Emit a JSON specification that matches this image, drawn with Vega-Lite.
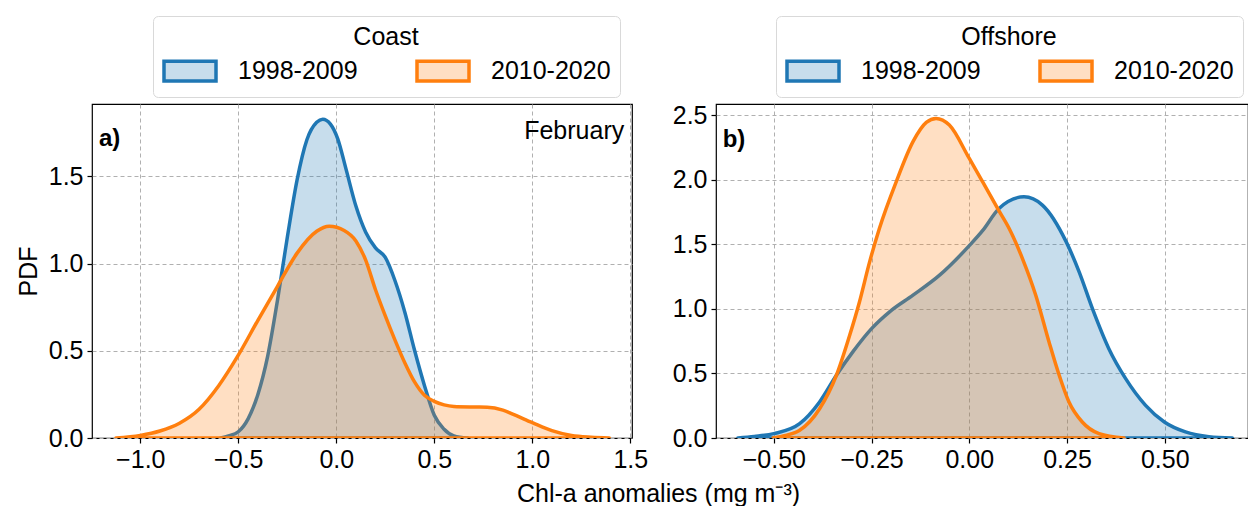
{
  "$schema": "https://vega.github.io/schema/vega-lite/v6.json",
  "padding": {"left": 15, "top": 14, "right": 0, "bottom": 0},
  "background": "white",
  "config": {
    "font": "Liberation Sans",
    "view": {"stroke": "black", "strokeWidth": 1.2},
    "axis": {
      "domain": false, "tickColor": "black", "tickSize": 5, "tickWidth": 1.2,
      "labelFont": "Liberation Sans", "labelFontSize": 25, "labelColor": "black", "labelPadding": 4,
      "gridColor": "#b0b0b0", "gridDash": [4, 3], "gridWidth": 1,
      "titleFont": "Liberation Sans", "titleFontSize": 25, "titleFontWeight": "normal", "titleColor": "black"
    },
    "legend": {
      "direction": "horizontal", "columns": 2,
      "titleAnchor": "middle", "titleFont": "Liberation Sans", "titleFontSize": 25, "titleFontWeight": "normal", "titleColor": "black", "titlePadding": 6,
      "labelFont": "Liberation Sans", "labelFontSize": 25, "labelColor": "black", "labelOffset": 46,
      "symbolType": "M-1,-0.76H3V0.76H-1Z", "symbolSize": 676, "symbolStrokeWidth": 3.5,
      "columnPadding": 52, "padding": 9, "strokeColor": "#d9d9d9", "cornerRadius": 5, "fillColor": "white"
    }
  },
  "datasets": {
    "coast": [
      {"x": -0.59, "pdf": 0, "period": "1998-2009"},
      {"x": -0.55, "pdf": 0.012, "period": "1998-2009"},
      {"x": -0.5, "pdf": 0.036, "period": "1998-2009"},
      {"x": -0.45, "pdf": 0.11, "period": "1998-2009"},
      {"x": -0.4, "pdf": 0.25, "period": "1998-2009"},
      {"x": -0.35, "pdf": 0.47, "period": "1998-2009"},
      {"x": -0.3, "pdf": 0.79, "period": "1998-2009"},
      {"x": -0.25, "pdf": 1.15, "period": "1998-2009"},
      {"x": -0.2, "pdf": 1.48, "period": "1998-2009"},
      {"x": -0.15, "pdf": 1.71, "period": "1998-2009"},
      {"x": -0.1, "pdf": 1.81, "period": "1998-2009"},
      {"x": -0.069, "pdf": 1.828, "period": "1998-2009"},
      {"x": -0.03, "pdf": 1.8, "period": "1998-2009"},
      {"x": 0.007, "pdf": 1.717, "period": "1998-2009"},
      {"x": 0.05, "pdf": 1.54, "period": "1998-2009"},
      {"x": 0.1, "pdf": 1.33, "period": "1998-2009"},
      {"x": 0.15, "pdf": 1.18, "period": "1998-2009"},
      {"x": 0.2, "pdf": 1.09, "period": "1998-2009"},
      {"x": 0.25, "pdf": 1.035, "period": "1998-2009"},
      {"x": 0.3, "pdf": 0.9, "period": "1998-2009"},
      {"x": 0.35, "pdf": 0.72, "period": "1998-2009"},
      {"x": 0.4, "pdf": 0.5, "period": "1998-2009"},
      {"x": 0.45, "pdf": 0.3, "period": "1998-2009"},
      {"x": 0.5, "pdf": 0.13, "period": "1998-2009"},
      {"x": 0.55, "pdf": 0.05, "period": "1998-2009"},
      {"x": 0.6, "pdf": 0.012, "period": "1998-2009"},
      {"x": 0.67, "pdf": 0, "period": "1998-2009"},
      {"x": -1.124, "pdf": 0, "period": "2010-2020"},
      {"x": -1.0, "pdf": 0.015, "period": "2010-2020"},
      {"x": -0.9, "pdf": 0.04, "period": "2010-2020"},
      {"x": -0.8, "pdf": 0.085, "period": "2010-2020"},
      {"x": -0.7, "pdf": 0.165, "period": "2010-2020"},
      {"x": -0.6, "pdf": 0.3, "period": "2010-2020"},
      {"x": -0.5, "pdf": 0.475, "period": "2010-2020"},
      {"x": -0.4, "pdf": 0.675, "period": "2010-2020"},
      {"x": -0.3, "pdf": 0.87, "period": "2010-2020"},
      {"x": -0.2, "pdf": 1.06, "period": "2010-2020"},
      {"x": -0.1, "pdf": 1.185, "period": "2010-2020"},
      {"x": -0.036, "pdf": 1.214, "period": "2010-2020"},
      {"x": 0.04, "pdf": 1.19, "period": "2010-2020"},
      {"x": 0.1, "pdf": 1.13, "period": "2010-2020"},
      {"x": 0.15, "pdf": 1.02, "period": "2010-2020"},
      {"x": 0.2, "pdf": 0.85, "period": "2010-2020"},
      {"x": 0.25, "pdf": 0.7, "period": "2010-2020"},
      {"x": 0.3, "pdf": 0.56, "period": "2010-2020"},
      {"x": 0.35, "pdf": 0.43, "period": "2010-2020"},
      {"x": 0.4, "pdf": 0.32, "period": "2010-2020"},
      {"x": 0.45, "pdf": 0.245, "period": "2010-2020"},
      {"x": 0.5, "pdf": 0.21, "period": "2010-2020"},
      {"x": 0.55, "pdf": 0.19, "period": "2010-2020"},
      {"x": 0.6, "pdf": 0.181, "period": "2010-2020"},
      {"x": 0.7, "pdf": 0.178, "period": "2010-2020"},
      {"x": 0.77, "pdf": 0.177, "period": "2010-2020"},
      {"x": 0.85, "pdf": 0.16, "period": "2010-2020"},
      {"x": 0.9, "pdf": 0.137, "period": "2010-2020"},
      {"x": 1.0, "pdf": 0.088, "period": "2010-2020"},
      {"x": 1.1, "pdf": 0.042, "period": "2010-2020"},
      {"x": 1.2, "pdf": 0.014, "period": "2010-2020"},
      {"x": 1.3, "pdf": 0.004, "period": "2010-2020"},
      {"x": 1.393, "pdf": 0, "period": "2010-2020"}
    ],
    "offshore": [
      {"x": -0.592, "pdf": 0, "period": "1998-2009"},
      {"x": -0.55, "pdf": 0.012, "period": "1998-2009"},
      {"x": -0.5, "pdf": 0.034, "period": "1998-2009"},
      {"x": -0.434, "pdf": 0.111, "period": "1998-2009"},
      {"x": -0.383, "pdf": 0.279, "period": "1998-2009"},
      {"x": -0.34, "pdf": 0.486, "period": "1998-2009"},
      {"x": -0.298, "pdf": 0.667, "period": "1998-2009"},
      {"x": -0.25, "pdf": 0.847, "period": "1998-2009"},
      {"x": -0.204, "pdf": 0.977, "period": "1998-2009"},
      {"x": -0.144, "pdf": 1.106, "period": "1998-2009"},
      {"x": -0.076, "pdf": 1.261, "period": "1998-2009"},
      {"x": 0.0, "pdf": 1.49, "period": "1998-2009"},
      {"x": 0.035, "pdf": 1.61, "period": "1998-2009"},
      {"x": 0.076, "pdf": 1.778, "period": "1998-2009"},
      {"x": 0.14, "pdf": 1.868, "period": "1998-2009"},
      {"x": 0.187, "pdf": 1.804, "period": "1998-2009"},
      {"x": 0.248, "pdf": 1.519, "period": "1998-2009"},
      {"x": 0.281, "pdf": 1.287, "period": "1998-2009"},
      {"x": 0.315, "pdf": 1.002, "period": "1998-2009"},
      {"x": 0.357, "pdf": 0.692, "period": "1998-2009"},
      {"x": 0.4, "pdf": 0.46, "period": "1998-2009"},
      {"x": 0.451, "pdf": 0.253, "period": "1998-2009"},
      {"x": 0.499, "pdf": 0.124, "period": "1998-2009"},
      {"x": 0.553, "pdf": 0.047, "period": "1998-2009"},
      {"x": 0.613, "pdf": 0.01, "period": "1998-2009"},
      {"x": 0.673, "pdf": 0, "period": "1998-2009"},
      {"x": -0.502, "pdf": 0, "period": "2010-2020"},
      {"x": -0.47, "pdf": 0.02, "period": "2010-2020"},
      {"x": -0.434, "pdf": 0.06, "period": "2010-2020"},
      {"x": -0.383, "pdf": 0.227, "period": "2010-2020"},
      {"x": -0.34, "pdf": 0.486, "period": "2010-2020"},
      {"x": -0.306, "pdf": 0.796, "period": "2010-2020"},
      {"x": -0.281, "pdf": 1.054, "period": "2010-2020"},
      {"x": -0.255, "pdf": 1.364, "period": "2010-2020"},
      {"x": -0.23, "pdf": 1.623, "period": "2010-2020"},
      {"x": -0.187, "pdf": 1.984, "period": "2010-2020"},
      {"x": -0.144, "pdf": 2.295, "period": "2010-2020"},
      {"x": -0.11, "pdf": 2.444, "period": "2010-2020"},
      {"x": -0.085, "pdf": 2.475, "period": "2010-2020"},
      {"x": -0.051, "pdf": 2.424, "period": "2010-2020"},
      {"x": 0.0, "pdf": 2.165, "period": "2010-2020"},
      {"x": 0.035, "pdf": 1.98, "period": "2010-2020"},
      {"x": 0.076, "pdf": 1.76, "period": "2010-2020"},
      {"x": 0.102, "pdf": 1.623, "period": "2010-2020"},
      {"x": 0.136, "pdf": 1.39, "period": "2010-2020"},
      {"x": 0.17, "pdf": 1.106, "period": "2010-2020"},
      {"x": 0.204, "pdf": 0.744, "period": "2010-2020"},
      {"x": 0.23, "pdf": 0.486, "period": "2010-2020"},
      {"x": 0.255, "pdf": 0.279, "period": "2010-2020"},
      {"x": 0.289, "pdf": 0.124, "period": "2010-2020"},
      {"x": 0.332, "pdf": 0.034, "period": "2010-2020"},
      {"x": 0.396, "pdf": 0, "period": "2010-2020"}
    ],
    "label_a": [{"x": -1.211, "pdf": 1.674, "text": "a)"}],
    "label_feb": [{"x": 1.469, "pdf": 1.712, "text": "February"}],
    "label_b": [{"x": -0.631, "pdf": 2.254, "text": "b)"}]
  },
  "hconcat": [
    {
      "width": 540,
      "height": 334,
      "layer": [
        {
          "data": {"name": "coast"},
          "mark": {"type": "area", "fillOpacity": 0.25, "strokeWidth": 3.5, "interpolate": "monotone", "strokeJoin": "round", "clip": true},
          "encoding": {
            "x": {"field": "x", "type": "quantitative",
              "scale": {"domain": [-1.2464, 1.5087], "nice": false, "zero": false},
              "axis": {"values": [-1, -0.5, 0, 0.5, 1, 1.5], "format": ".1f", "grid": true,
                "title": "Chl-a anomalies (mg m⁻³)", "titleX": 566, "titleY": 63, "titleAlign": "center", "titleBaseline": "alphabetic", "titleAnchor": null}},
            "y": {"field": "pdf", "type": "quantitative", "stack": null,
              "scale": {"domain": [0, 1.915], "nice": false},
              "axis": {"values": [0, 0.5, 1, 1.5], "format": ".1f", "title": "PDF",
                "titleX": -56, "titleY": 167, "titleAlign": "center", "titleBaseline": "alphabetic", "titleAngle": -90}},
            "fill": {"field": "period", "type": "nominal", "title": "Coast",
              "scale": {"domain": ["1998-2009", "2010-2020"], "range": ["#1f77b4", "#ff7f0e"]},
              "legend": {"orient": "none", "legendX": 61, "legendY": -88,
                "encode": {"symbols": {"update": {"fillOpacity": {"value": 0.25}}}}}},
            "stroke": {"field": "period", "type": "nominal", "title": "Coast",
              "scale": {"domain": ["1998-2009", "2010-2020"], "range": ["#1f77b4", "#ff7f0e"]},
              "legend": {"orient": "none", "legendX": 61, "legendY": -88,
                "encode": {"symbols": {"update": {"fillOpacity": {"value": 0.25}}}}}}
          }
        },
        {
          "data": {"name": "label_a"},
          "mark": {"type": "text", "align": "left", "baseline": "alphabetic", "fontSize": 24, "fontWeight": "bold", "font": "Liberation Sans", "color": "black"},
          "encoding": {
            "x": {"field": "x", "type": "quantitative"},
            "y": {"field": "pdf", "type": "quantitative"},
            "text": {"field": "text"}
          }
        },
        {
          "data": {"name": "label_feb"},
          "mark": {"type": "text", "align": "right", "baseline": "alphabetic", "fontSize": 25, "font": "Liberation Sans", "color": "black"},
          "encoding": {
            "x": {"field": "x", "type": "quantitative"},
            "y": {"field": "pdf", "type": "quantitative"},
            "text": {"field": "text"}
          }
        }
      ]
    },
    {
      "width": 532,
      "height": 334,
      "layer": [
        {
          "data": {"name": "offshore"},
          "mark": {"type": "area", "fillOpacity": 0.25, "strokeWidth": 3.5, "interpolate": "monotone", "strokeJoin": "round", "clip": true},
          "encoding": {
            "x": {"field": "x", "type": "quantitative",
              "scale": {"domain": [-0.648, 0.713], "nice": false, "zero": false},
              "axis": {"values": [-0.5, -0.25, 0, 0.25, 0.5], "format": ".2f", "title": null}},
            "y": {"field": "pdf", "type": "quantitative", "stack": null,
              "scale": {"domain": [0, 2.587], "nice": false},
              "axis": {"values": [0, 0.5, 1, 1.5, 2, 2.5], "format": ".1f", "title": null}},
            "fill": {"field": "period", "type": "nominal", "title": "Offshore",
              "scale": {"domain": ["1998-2009", "2010-2020"], "range": ["#1f77b4", "#ff7f0e"]},
              "legend": {"orient": "none", "legendX": 60, "legendY": -88,
                "encode": {"symbols": {"update": {"fillOpacity": {"value": 0.25}}}}}},
            "stroke": {"field": "period", "type": "nominal", "title": "Offshore",
              "scale": {"domain": ["1998-2009", "2010-2020"], "range": ["#1f77b4", "#ff7f0e"]},
              "legend": {"orient": "none", "legendX": 60, "legendY": -88,
                "encode": {"symbols": {"update": {"fillOpacity": {"value": 0.25}}}}}}
          }
        },
        {
          "data": {"name": "label_b"},
          "mark": {"type": "text", "align": "left", "baseline": "alphabetic", "fontSize": 24, "fontWeight": "bold", "font": "Liberation Sans", "color": "black"},
          "encoding": {
            "x": {"field": "x", "type": "quantitative"},
            "y": {"field": "pdf", "type": "quantitative"},
            "text": {"field": "text"}
          }
        }
      ]
    }
  ],
  "spacing": 84,
  "bounds": "flush",
  "resolve": {"scale": {"fill": "independent", "stroke": "independent"}}
}
